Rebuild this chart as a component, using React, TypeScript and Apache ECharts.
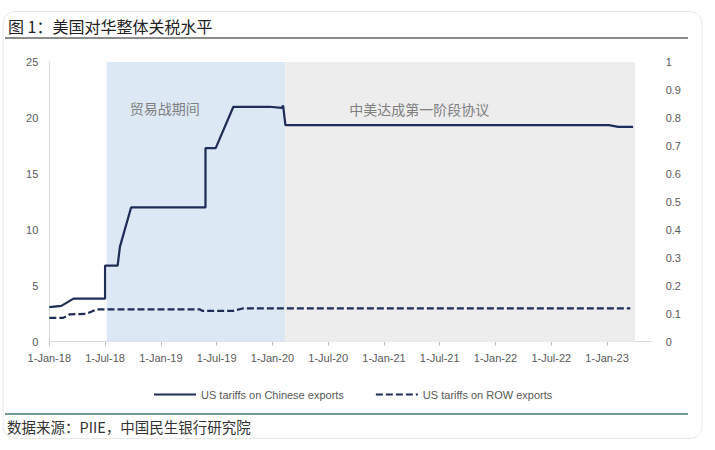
import { useEffect, useRef } from "react";
import * as echarts from "echarts";

// x positions are months counted from 1-Jan-18
const xTickMonths = [0, 6, 12, 18, 24, 30, 36, 42, 48, 54, 60];
const xTickLabels = [
  "1-Jan-18", "1-Jul-18", "1-Jan-19", "1-Jul-19", "1-Jan-20", "1-Jul-20",
  "1-Jan-21", "1-Jul-21", "1-Jan-22", "1-Jul-22", "1-Jan-23",
];

const chinaMonths = [0, 1.3, 2.6, 6.0, 6.0, 7.35, 7.6, 8.8, 16.8, 16.8, 17.9, 19.8, 23.7, 25.0, 25.15, 25.4, 60.2, 61.2, 62.8];
const chinaTariff = [3.1, 3.2, 3.85, 3.85, 6.8, 6.8, 8.5, 12.0, 12.0, 17.3, 17.3, 21.0, 21.0, 20.9, 21.1, 19.35, 19.35, 19.2, 19.2];

const rowMonths = [0, 1.5, 2.2, 4.0, 5.1, 16.2, 16.5, 19.75, 20.8, 62.5];
const rowTariff = [2.13, 2.13, 2.45, 2.5, 2.88, 2.88, 2.75, 2.75, 2.97, 2.97];

const tradeWarStart = 6.18;
const phaseOneStart = 25.37;
const periodEnd = 63.0;

const NAVY = "#1f2d59";
const GRAY_TEXT = "#595959";
const CJK = "'Noto Sans CJK SC', sans-serif";
const LATIN = "'Liberation Sans', Arial, sans-serif";

const zip = (xs: number[], ys: number[]) => xs.map((x, i) => [x, ys[i]]);

export default function App() {
  const ref = useRef<HTMLDivElement | null>(null);

  useEffect(() => {
    const el = ref.current!;
    const chart = echarts.init(el, null, { renderer: "svg" });
    chart.setOption({
      animation: false,
      textStyle: { fontFamily: LATIN },
      title: {
        text: "图 1：美国对华整体关税水平",
        left: 8,
        top: 18,
        padding: 0,
        textStyle: { fontSize: 16, fontWeight: "normal", color: "#222", fontFamily: CJK },
      },
      graphic: [
        {
          type: "rect",
          silent: true,
          shape: { x: 3, y: 11.5, width: 699, height: 427, r: 12 },
          style: { fill: "none", stroke: "#e8e8e8", lineWidth: 1 },
        },
        { type: "line", silent: true, shape: { x1: 5, y1: 38, x2: 688, y2: 38 }, style: { stroke: "#666", lineWidth: 1.5 } },
        { type: "line", silent: true, shape: { x1: 5, y1: 414, x2: 688, y2: 414 }, style: { stroke: "#3f7a74", lineWidth: 1.5 } },
        {
          type: "text",
          left: 7,
          top: 419,
          style: { text: "数据来源：PIIE，中国民生银行研究院", fontSize: 14.5, fill: "#333", fontFamily: CJK },
        },
      ],
      grid: { left: 49.3, right: 63.3, top: 62, bottom: 108.3 },
      legend: {
        left: 148,
        top: 384,
        itemWidth: 42,
        itemHeight: 12,
        itemGap: 31,
        itemStyle: { opacity: 0 },
        textStyle: { color: GRAY_TEXT, fontSize: 11 },
      },
      xAxis: {
        type: "value",
        min: 0,
        max: 64.8,
        splitLine: { show: false },
        axisLine: { lineStyle: { color: "#d9d9d9" } },
        axisTick: { customValues: xTickMonths, length: 4, lineStyle: { color: "#bfbfbf" } },
        axisLabel: {
          customValues: xTickMonths,
          formatter: (v: number) => xTickLabels[xTickMonths.indexOf(v)] ?? "",
          color: GRAY_TEXT,
          fontSize: 11,
          margin: 11,
        },
      },
      yAxis: [
        {
          type: "value",
          min: 0,
          max: 25,
          interval: 5,
          splitLine: { show: false },
          axisTick: { show: false },
          axisLine: { show: true, lineStyle: { color: "#d9d9d9" } },
          axisLabel: { color: GRAY_TEXT, fontSize: 11, margin: 11 },
        },
        {
          type: "value",
          position: "right",
          min: 0,
          max: 1,
          interval: 0.1,
          splitLine: { show: false },
          axisTick: { show: false },
          axisLine: { show: false },
          axisLabel: { color: GRAY_TEXT, fontSize: 11, margin: 14 },
        },
      ],
      series: [
        {
          name: "US tariffs on Chinese exports",
          type: "line",
          data: zip(chinaMonths, chinaTariff),
          symbol: "none",
          z: 3,
          lineStyle: { color: NAVY, width: 2.25 },
          itemStyle: { color: NAVY },
          markArea: {
            silent: true,
            label: { show: true, color: "#7f7f7f", fontSize: 14, fontFamily: CJK, align: "left", verticalAlign: "top" },
            data: [
              [
                { name: "贸易战期间", xAxis: tradeWarStart, itemStyle: { color: "#dde8f5" }, label: { position: [23, 39] } },
                { xAxis: phaseOneStart },
              ],
              [
                { name: "中美达成第一阶段协议", xAxis: phaseOneStart, itemStyle: { color: "#ededed" }, label: { position: [64, 40] } },
                { xAxis: periodEnd },
              ],
            ],
          },
        },
        {
          name: "US tariffs on ROW exports",
          type: "line",
          data: zip(rowMonths, rowTariff),
          symbol: "none",
          z: 3,
          lineStyle: { color: NAVY, width: 2.25, type: [7, 3] },
          itemStyle: { color: NAVY },
        },
      ],
    });
    return () => chart.dispose();
  }, []);

  return (
    <div
      ref={ref}
      style={{ position: "fixed", left: 0, top: 0, width: 715, height: 450, background: "#fff" }}
    />
  );
}
